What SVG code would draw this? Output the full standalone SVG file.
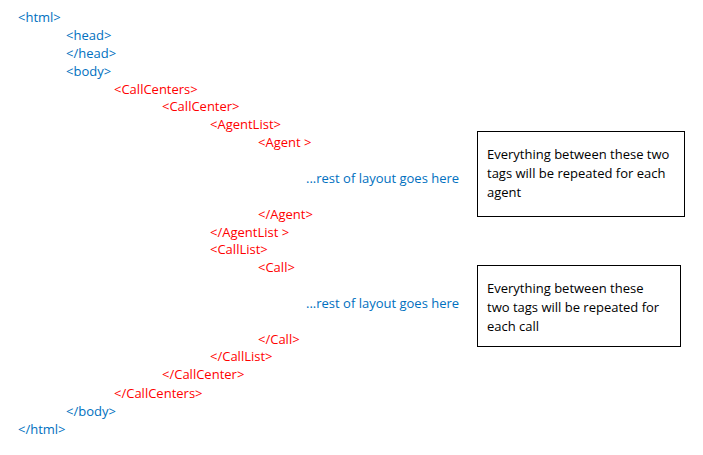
<svg xmlns="http://www.w3.org/2000/svg" width="703" height="455" viewBox="0 0 703 455">
<style>
text{font-family:"Open Sans","Noto Sans",sans-serif;font-size:13px}
.b{fill:#0070C0}
.r{fill:#FF0000}
.k{fill:#000000}
.box{fill:#ffffff;stroke:#000000;stroke-width:1}
</style>
<rect width="703" height="455" fill="#ffffff"/>
<g id="code">
<text class="b" x="18" y="22">&lt;html&gt;</text>
<text class="b" x="66" y="40">&lt;head&gt;</text>
<text class="b" x="66" y="58">&lt;/head&gt;</text>
<text class="b" x="66" y="76">&lt;body&gt;</text>
<text class="r" x="114" y="94">&lt;CallCenters&gt;</text>
<text class="r" x="162" y="111">&lt;CallCenter&gt;</text>
<text class="r" x="210" y="129">&lt;AgentList&gt;</text>
<text class="r" x="258" y="147">&lt;Agent &gt;</text>
<text class="b" x="306" y="183">...rest of layout goes here</text>
<text class="r" x="258" y="219">&lt;/Agent&gt;</text>
<text class="r" x="210" y="237">&lt;/AgentList &gt;</text>
<text class="r" x="210" y="254">&lt;CallList&gt;</text>
<text class="r" x="258" y="272">&lt;Call&gt;</text>
<text class="b" x="306" y="308">...rest of layout goes here</text>
<text class="r" x="258" y="344">&lt;/Call&gt;</text>
<text class="r" x="210" y="361">&lt;/CallList&gt;</text>
<text class="r" x="162" y="379">&lt;/CallCenter&gt;</text>
<text class="r" x="114" y="398">&lt;/CallCenters&gt;</text>
<text class="b" x="66" y="416">&lt;/body&gt;</text>
<text class="b" x="18" y="434">&lt;/html&gt;</text>
</g>
<g id="note1">
<rect class="box" x="477.5" y="131.5" width="207" height="85"/>
<text class="k" x="487" y="159">Everything between these two</text>
<text class="k" x="487" y="178">tags will be repeated for each</text>
<text class="k" x="487" y="197">agent</text>
</g>
<g id="note2">
<rect class="box" x="477.5" y="265.5" width="203" height="81"/>
<text class="k" x="487" y="293">Everything between these</text>
<text class="k" x="487" y="312">two tags will be repeated for</text>
<text class="k" x="487" y="331">each call</text>
</g>
<g id="connectors"/>
</svg>
